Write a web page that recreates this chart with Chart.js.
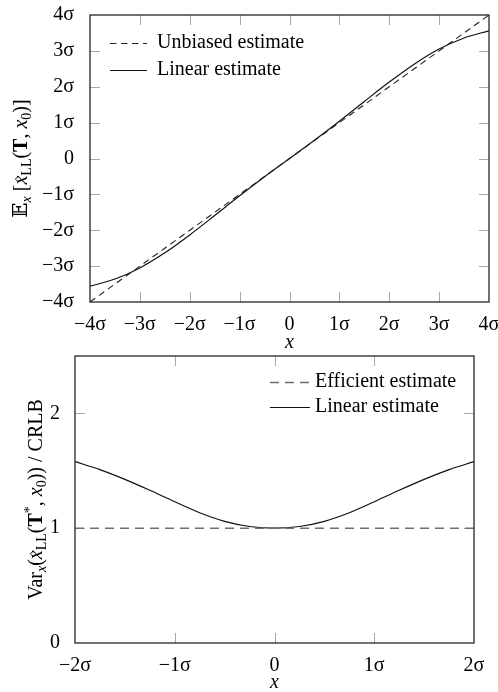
<!DOCTYPE html>
<html><head><meta charset="utf-8">
<script src="https://cdn.jsdelivr.net/npm/chart.js@4/dist/chart.umd.min.js"></script>
<style>
html,body{margin:0;padding:0;background:#fff;width:498px;height:692px;overflow:hidden}
canvas{position:absolute;left:0}
#c1{top:0;width:498px;height:348px}
#c2{top:348px;width:498px;height:344px}
</style></head><body>
<canvas id="c1" width="498" height="348"></canvas>
<canvas id="c2" width="498" height="344"></canvas>
<script>
// ---------- data: top chart ----------
const xTop = [-4,-3.5,-3,-2.5,-2,-1.5,-1,-0.5,0,0.5,1,1.5,2,2.5,3,3.5,4];
const unbiasedTop = [-4,-3.5,-3,-2.5,-2,-1.5,-1,-0.5,0,0.5,1,1.5,2,2.5,3,3.5,4];
const linearTop = [-3.56,-3.36,-3.05,-2.63,-2.13,-1.59,-1.04,-0.51,0,0.51,1.04,1.59,2.13,2.63,3.05,3.36,3.56];
const topSeriesLabels = ['Unbiased estimate','Linear estimate'];
const topXTickValues = [-4,-3,-2,-1,0,1,2,3,4];
const topXTickLabels = ['−4σ','−3σ','−2σ','−1σ','0','1σ','2σ','3σ','4σ'];
const topYTickValues = [-4,-3,-2,-1,0,1,2,3,4];
const topYTickLabels = ['−4σ','−3σ','−2σ','−1σ','0','1σ','2σ','3σ','4σ'];
const topXTitle = 'x';

// ---------- data: bottom chart ----------
const xBottom = [-2,-1.75,-1.5,-1.25,-1,-0.75,-0.5,-0.25,0,0.25,0.5,0.75,1,1.25,1.5,1.75,2];
const efficientBottom = [1,1,1,1,1,1,1,1,1,1,1,1,1,1,1,1,1];
const linearBottom = [1.58,1.51,1.425,1.33,1.23,1.135,1.06,1.015,1.0,1.015,1.06,1.135,1.23,1.33,1.425,1.51,1.58];
const bottomSeriesLabels = ['Efficient estimate','Linear estimate'];
const bottomXTickValues = [-2,-1,0,1,2];
const bottomXTickLabels = ['−2σ','−1σ','0','1σ','2σ'];
const bottomYTickValues = [0,1,2];
const bottomYTickLabels = ['0','1','2'];
const bottomXTitle = 'x';

const FONT = "'Liberation Serif','DejaVu Serif',serif";
const FS = 20;

function drawRich(ctx, segs, cx, cy, rot, base) {
  ctx.save();
  ctx.translate(cx, cy);
  ctx.rotate(rot);
  ctx.fillStyle = '#000';
  ctx.textAlign = 'left';
  ctx.textBaseline = 'alphabetic';
  let w = 0;
  const m = segs.map(s => {
    const size = (s.sub || s.sup) ? base * 0.7 : base;
    const f = (s.i ? 'italic ' : '') + (s.b ? 'bold ' : '') + size + 'px ' + FONT;
    ctx.font = f;
    const mw = ctx.measureText(s.t).width;
    w += mw;
    return {f, mw, dy: s.sub ? base * 0.22 : (s.sup ? -base * 0.38 : 0)};
  });
  let x = -w / 2;
  const by = base * 0.33;
  segs.forEach((s, i) => {
    ctx.font = m[i].f;
    ctx.fillText(s.t, x, by + m[i].dy);
    if (s.hat) {
      const hx = x + m[i].mw / 2 + 1;
      const hy = by - base * 0.52;
      ctx.beginPath();
      ctx.lineWidth = 0.9;
      ctx.strokeStyle = '#000';
      ctx.moveTo(hx - 3, hy + 2.2);
      ctx.lineTo(hx, hy - 0.8);
      ctx.lineTo(hx + 3, hy + 2.2);
      ctx.stroke();
    }
    x += m[i].mw;
  });
  ctx.restore();
}

const deco = {
  id: 'deco',
  beforeDatasetsDraw(chart, args, o) {
    const ctx = chart.ctx, a = chart.chartArea;
    const xs = chart.scales.x, ys = chart.scales.y;
    ctx.save();
    ctx.strokeStyle = '#a8a8a8';
    ctx.lineWidth = 1;
    o.xTicks.forEach(v => {
      const p = Math.round(xs.getPixelForValue(v)) + 0.5;
      if (p <= a.left + 1 || p >= a.right - 1) return;
      ctx.beginPath();
      ctx.moveTo(p, a.bottom); ctx.lineTo(p, a.bottom - 10);
      ctx.moveTo(p, a.top); ctx.lineTo(p, a.top + 10);
      ctx.stroke();
    });
    o.yTicks.forEach(v => {
      const p = Math.round(ys.getPixelForValue(v)) + 0.5;
      if (p <= a.top + 1 || p >= a.bottom - 1) return;
      ctx.beginPath();
      ctx.moveTo(a.left, p); ctx.lineTo(a.left + 10, p);
      ctx.moveTo(a.right, p); ctx.lineTo(a.right - 10, p);
      ctx.stroke();
    });
    ctx.restore();
  },
  afterDraw(chart, args, o) {
    const ctx = chart.ctx, a = chart.chartArea;
    ctx.save();
    ctx.strokeStyle = '#262626';
    ctx.lineWidth = 1.3;
    ctx.strokeRect(a.left, a.top, a.right - a.left, a.bottom - a.top);
    ctx.font = FS + 'px ' + FONT;
    ctx.textBaseline = 'middle';
    ctx.textAlign = 'left';
    chart.data.datasets.forEach((d, i) => {
      const y = o.legend.ys[i];
      ctx.beginPath();
      ctx.strokeStyle = d.borderColor;
      ctx.lineWidth = d.borderWidth;
      ctx.setLineDash(d.borderDash || []);
      ctx.moveTo(o.legend.x0, y + 0.5); ctx.lineTo(o.legend.x1, y + 0.5);
      ctx.stroke();
      ctx.setLineDash([]);
      ctx.fillStyle = '#000';
      ctx.fillText(d.label, o.legend.tx, y);
    });
    ctx.font = 'italic ' + FS + 'px ' + FONT;
    ctx.textAlign = 'center';
    ctx.fillText(o.xTitle.text, (a.left + a.right) / 2, o.xTitle.y);
    ctx.restore();
    drawRich(ctx, o.yTitle.segs, o.yTitle.x, (a.top + a.bottom) / 2, -Math.PI / 2, FS);
  }
};

function scaleCfg(min, max, vals, labels, isX, size, pad) {
  return {
    type: 'linear', min, max,
    afterBuildTicks: s => { s.ticks = vals.map(v => ({value: v})); },
    afterFit: s => {
      s.paddingLeft = 0; s.paddingRight = 0; s.paddingTop = 0; s.paddingBottom = 0;
      if (isX) s.height = size; else s.width = size;
    },
    grid: {display: false},
    border: {display: false},
    ticks: {
      callback: (v) => { const k = vals.indexOf(v); return k >= 0 ? labels[k] : ''; },
      font: {family: FONT, size: FS},
      color: '#000',
      padding: pad,
      maxRotation: 0,
      autoSkip: false
    }
  };
}

new Chart(document.getElementById('c1'), {
  type: 'line',
  data: {datasets: [
    {label: topSeriesLabels[0], data: xTop.map((x, i) => ({x, y: unbiasedTop[i]})),
     borderColor: '#222', borderWidth: 1.1, borderDash: [6.5, 4.5], pointRadius: 0, tension: 0},
    {label: topSeriesLabels[1], data: xTop.map((x, i) => ({x, y: linearTop[i]})),
     borderColor: '#111', borderWidth: 1.2, pointRadius: 0, cubicInterpolationMode: 'monotone'}
  ]},
  options: {
    responsive: false, animation: false, events: [],
    layout: {padding: {top: 15, right: 9, left: 0, bottom: 0}},
    plugins: {
      legend: {display: false}, tooltip: {enabled: false},
      deco: {
        xTicks: topXTickValues, yTicks: topYTickValues,
        legend: {x0: 110, x1: 147, tx: 157, ys: [43, 70]},
        xTitle: {text: topXTitle, y: 343},
        yTitle: {x: 20, segs: [
          {t: '𝔼'}, {t: 'x', i: true, sub: true}, {t: ' ['}, {t: 'x', i: true, hat: true},
          {t: 'LL', sub: true}, {t: '('}, {t: 'T', b: true}, {t: ', '}, {t: 'x', i: true},
          {t: '0', sub: true}, {t: ')]'}
        ]}
      }
    },
    scales: {
      x: scaleCfg(-4, 4, topXTickValues, topXTickLabels, true, 46, 3),
      y: scaleCfg(-4, 4, topYTickValues, topYTickLabels, false, 90, 8)
    }
  },
  plugins: [deco]
});

new Chart(document.getElementById('c2'), {
  type: 'line',
  data: {datasets: [
    {label: bottomSeriesLabels[0], data: xBottom.map((x, i) => ({x, y: efficientBottom[i]})),
     borderColor: '#6e6e6e', borderWidth: 1.5, borderDash: [9, 6], pointRadius: 0, tension: 0},
    {label: bottomSeriesLabels[1], data: xBottom.map((x, i) => ({x, y: linearBottom[i]})),
     borderColor: '#111', borderWidth: 1.2, pointRadius: 0, cubicInterpolationMode: 'monotone'}
  ]},
  options: {
    responsive: false, animation: false, events: [],
    layout: {padding: {top: 8, right: 24, left: 0, bottom: 0}},
    plugins: {
      legend: {display: false}, tooltip: {enabled: false},
      deco: {
        xTicks: bottomXTickValues, yTicks: bottomYTickValues,
        legend: {x0: 270, x1: 310, tx: 315, ys: [34, 59]},
        xTitle: {text: bottomXTitle, y: 335},
        yTitle: {x: 35, segs: [
          {t: 'Var'}, {t: 'x', i: true, sub: true}, {t: '('}, {t: 'x', i: true, hat: true},
          {t: 'LL', sub: true}, {t: '('}, {t: 'T', b: true}, {t: '*', sup: true}, {t: ', '},
          {t: 'x', i: true}, {t: '0', sub: true}, {t: ')) / CRLB'}
        ]}
      }
    },
    scales: {
      x: scaleCfg(-2, 2, bottomXTickValues, bottomXTickLabels, true, 49, 3),
      y: scaleCfg(0, 2.5, bottomYTickValues, bottomYTickLabels, false, 75, 7)
    }
  },
  plugins: [deco]
});
</script>
</body></html>
